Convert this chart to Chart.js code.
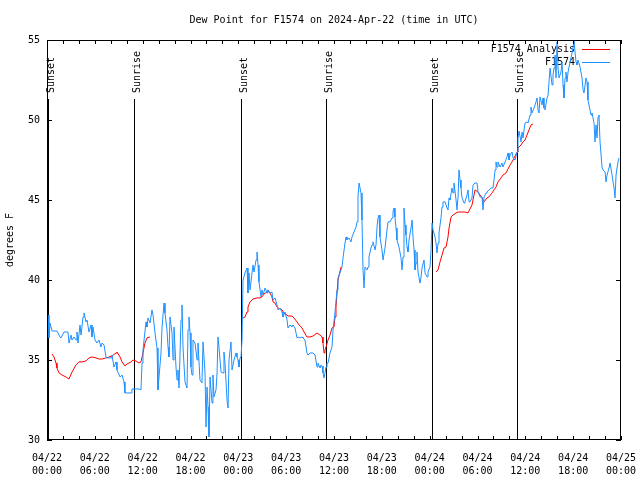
<!DOCTYPE html>
<html>
<head>
<meta charset="utf-8">
<script src="https://cdn.jsdelivr.net/npm/chart.js@4/dist/chart.umd.min.js"></script>
<style>
  body { margin: 0; background: #fff; }
</style>
</head>
<body>
<canvas id="chart" width="640" height="480"></canvas>
<script>
// hours after 04/22 00:00 UTC, dew point in degrees F
const obsHours = [
    0.13, 0.25, 0.38, 0.63, 1.25, 1.63, 1.76, 2.13, 2.63, 2.76,
    3.01, 3.14, 3.39, 3.64, 3.76, 3.89, 4.14, 4.27, 4.52, 4.64,
    4.89, 5.02, 5.27, 5.52, 5.64, 5.77, 6.02, 6.27, 6.52, 6.77,
    6.9, 7.15, 7.4, 7.53, 8.03, 8.15, 8.4, 8.66, 8.78, 9.16,
    9.41, 9.66, 9.78, 10.54, 10.66, 11.54, 11.79, 11.92, 12.04, 12.42,
    12.54, 12.67, 12.92, 13.17, 13.3, 13.55, 13.8, 13.92, 14.05, 14.3,
    14.43, 14.68, 14.8, 15.05, 15.18, 15.3, 15.43, 15.68, 15.81, 15.93,
    16.18, 16.31, 16.43, 16.56, 16.81, 16.93, 17.06, 17.31, 17.56, 17.69,
    17.81, 17.94, 18.06, 18.19, 18.31, 18.57, 18.82, 18.94, 19.19, 19.44,
    19.57, 19.82, 19.95, 20.07, 20.2, 20.32, 20.45, 20.7, 20.82, 20.95,
    21.2, 21.33, 21.45, 21.58, 21.83, 22.08, 22.2, 22.33, 22.58, 22.71,
    22.83, 23.08, 23.21, 23.46, 23.71, 23.83, 23.96, 24.08, 24.21, 24.34,
    24.46, 24.59, 24.84, 25.09, 25.21, 25.34, 25.47, 25.72, 25.84, 25.97,
    26.22, 26.34, 26.47, 26.59, 26.85, 26.97, 27.1, 27.35, 27.6, 27.72,
    27.97, 28.22, 28.35, 28.6, 28.85, 28.98, 29.23, 29.48, 29.6, 29.85,
    30.11, 30.23, 30.48, 30.73, 30.86, 31.11, 31.36, 31.49, 31.74, 31.99,
    32.11, 32.36, 32.61, 32.74, 32.99, 33.37, 33.62, 33.87, 33.99, 34.25,
    34.37, 34.5, 34.62, 34.75, 35.0, 35.12, 35.25, 35.5, 35.75, 35.88,
    36.13, 36.38, 36.5, 36.75, 37.0, 37.13, 37.38, 37.51, 37.63, 37.88,
    38.13, 38.26, 38.51, 38.76, 38.89, 39.01, 39.14, 39.39, 39.51, 39.64,
    39.77, 39.89, 40.14, 40.27, 40.39, 40.64, 40.77, 40.89, 41.15, 41.27,
    41.4, 41.52, 41.65, 41.77, 42.02, 42.15, 42.4, 42.65, 42.78, 43.03,
    43.28, 43.4, 43.53, 43.65, 43.78, 43.9, 44.15, 44.41, 44.53, 44.66,
    44.78, 44.91, 45.03, 45.16, 45.28, 45.41, 45.66, 45.79, 45.91, 46.04,
    46.16, 46.29, 46.41, 46.54, 46.79, 46.92, 47.04, 47.29, 47.42, 47.67,
    47.79, 48.04, 48.17, 48.3, 48.42, 48.67, 48.8, 48.92, 49.05, 49.17,
    49.42, 49.55, 49.67, 49.93, 50.18, 50.3, 50.43, 50.55, 50.8, 50.93,
    51.05, 51.31, 51.43, 51.56, 51.68, 51.81, 51.93, 52.06, 52.31, 52.43,
    52.68, 52.81, 52.94, 53.06, 53.31, 53.44, 53.69, 53.94, 54.07, 54.32,
    54.57, 54.69, 54.82, 55.07, 55.19, 55.44, 55.7, 55.95, 56.07, 56.2,
    56.32, 56.45, 56.57, 56.83, 57.08, 57.2, 57.45, 57.7, 57.83, 57.95,
    58.08, 58.33, 58.46, 58.71, 58.96, 59.08, 59.21, 59.46, 59.59, 59.71,
    59.96, 60.21, 60.34, 60.59, 60.71, 60.84, 61.09, 61.34, 61.47, 61.59,
    61.72, 61.84, 62.09, 62.22, 62.34, 62.47, 62.72, 62.85, 62.97, 63.1,
    63.35, 63.47, 63.6, 63.72, 63.85, 63.98, 64.1, 64.23, 64.48, 64.6,
    64.73, 64.85, 64.98, 65.1, 65.23, 65.36, 65.48, 65.73, 65.86, 65.98,
    66.11, 66.23, 66.36, 66.48, 66.61, 66.86, 67.11, 67.24, 67.36, 67.61,
    67.74, 67.86, 68.11, 68.24, 68.36, 68.49, 68.62, 68.74, 68.87, 68.99,
    69.12, 69.24, 69.37, 69.62, 69.75, 70.0, 70.12, 70.25, 70.5, 70.63,
    70.88, 71.0, 71.13, 71.25, 71.38, 71.5, 71.63, 71.76
];
const obsDew = [
    37.81, 36.38, 37.31, 36.81, 36.81, 36.44, 36.38, 36.75, 36.75, 36.06,
    36.56, 36.25, 36.44, 36.25, 36.75, 36.06, 37.19, 36.56, 37.69, 37.94,
    37.38, 37.5, 36.75, 37.19, 36.44, 37.06, 36.25, 36.06, 36.25, 35.81,
    36.06, 35.94, 35.19, 35.13, 35.13, 35.31, 34.56, 34.88, 34.38, 33.94,
    34.06, 33.63, 32.94, 32.94, 33.19, 33.19, 33.13, 34.81, 35.63, 37.38,
    37.06, 37.63, 37.31, 38.13, 37.81, 36.69, 35.75, 33.13, 33.94, 35.44,
    37.06, 38.56, 37.94, 36.88, 35.81, 35.19, 37.69, 36.69, 35.0, 37.06,
    34.56, 33.75, 34.38, 33.25, 37.5, 38.44, 35.81, 33.63, 33.25, 36.88,
    37.69, 36.69, 34.56, 34.06, 36.25, 36.06, 35.0, 36.06, 33.75, 33.56,
    36.13, 34.19, 30.81, 33.31, 32.06, 30.19, 33.94, 32.31, 34.06, 32.69,
    33.13, 34.19, 36.44, 35.75, 34.25, 34.19, 35.5, 34.81, 32.5, 32.0,
    35.0, 36.13, 34.38, 35.0, 35.44, 35.19, 35.0, 34.56, 35.13, 35.19,
    36.25, 40.0, 40.44, 40.75, 39.19, 40.44, 39.38, 40.44, 40.94, 40.5,
    41.25, 41.75, 40.94, 39.88, 38.94, 39.38, 39.06, 39.5, 39.19, 39.38,
    39.19, 39.25, 38.75, 38.88, 38.44, 38.13, 38.25, 38.0, 37.69, 38.0,
    37.5, 37.0, 37.19, 37.06, 37.19, 37.0, 36.38, 36.44, 36.38, 36.44,
    36.38, 36.25, 35.44, 35.31, 35.44, 35.44, 35.31, 34.56, 34.81, 34.5,
    34.69, 34.63, 34.19, 33.88, 34.56, 34.81, 34.81, 35.44, 35.81, 36.88,
    38.0, 39.38, 40.13, 40.44, 40.81, 41.38, 42.31, 42.69, 42.5, 42.63,
    42.38, 42.69, 43.0, 43.31, 43.63, 45.19, 46.06, 45.44, 43.75, 40.63,
    39.5, 40.81, 40.63, 40.81, 41.44, 42.0, 42.19, 42.38, 41.88, 42.19,
    43.31, 43.88, 44.06, 42.69, 41.88, 41.25, 42.0, 43.13, 43.63, 43.63,
    43.88, 44.25, 44.5, 43.94, 43.25, 42.5, 42.06, 41.38, 40.63, 41.44,
    44.5, 43.44, 42.81, 42.06, 41.75, 42.5, 43.25, 43.75, 42.69, 41.88,
    40.63, 41.06, 41.75, 40.5, 39.81, 40.19, 40.75, 41.25, 40.44, 40.19,
    40.5, 40.81, 41.88, 43.56, 43.13, 42.69, 42.31, 41.69, 42.31, 42.94,
    43.88, 44.56, 44.88, 44.88, 44.5, 44.38, 45.13, 45.0, 45.75, 45.44,
    46.06, 45.0, 44.38, 45.19, 46.88, 46.25, 45.75, 45.13, 44.81, 44.88,
    45.31, 45.63, 44.88, 44.88, 45.13, 45.94, 46.06, 46.06, 45.5, 45.19,
    45.19, 44.38, 45.19, 45.44, 45.5, 45.63, 45.75, 45.75, 46.25, 46.88,
    47.38, 47.06, 47.38, 47.06, 47.31, 47.06, 47.38, 47.69, 47.94, 47.5,
    47.81, 48.0, 47.63, 47.5, 48.0, 48.88, 49.31, 48.63, 49.25, 48.88,
    49.81, 49.88, 49.81, 50.31, 50.81, 50.44, 50.75, 51.13, 51.38, 50.63,
    50.44, 51.44, 50.94, 51.38, 50.75, 50.63, 51.38, 51.56, 52.38, 53.25,
    52.19, 52.81, 53.25, 54.06, 52.63, 54.88, 53.25, 52.63, 53.0, 53.63,
    52.19, 51.38, 52.63, 53.0, 52.38, 53.0, 53.31, 53.88, 54.19, 54.5,
    54.94, 54.25, 53.63, 53.44, 53.75, 53.31, 52.63, 51.88, 51.69, 52.63,
    52.38, 51.25, 50.63, 50.31, 50.44, 50.13, 49.81, 48.63, 49.69, 48.88,
    50.19, 50.31, 48.63, 47.06, 46.88, 46.75, 46.13, 46.56, 47.0, 47.31,
    46.56, 46.13, 45.75, 45.13, 46.56, 47.0, 47.38, 47.63
];

// analysis runs; null breaks the line between runs
const anaHours = [
    0.63, 0.88, 1.13, 1.25, 1.51, 1.88, 2.38, 2.76, 3.14, 3.64,
    4.01, 4.39, 4.89, 5.27, 5.64, 6.15, 6.52, 6.9, 7.4, 7.78,
    8.15, 8.66, 8.78, 9.16, 9.41, 9.78, 10.04, 10.54, 10.79, 11.16,
    11.54, 11.79, 12.04, 12.29, 12.54, 12.92, 13.0,
    24.59, 24.84, 25.09, 25.21, 25.47, 25.84, 26.34, 26.72, 26.97, 27.22,
    27.6, 27.72, 27.97, 28.22, 28.35, 28.6, 28.85, 28.98, 29.48, 29.73,
    30.11, 30.23, 30.73, 30.98, 31.36, 31.61, 31.99, 32.24, 32.61, 32.99,
    33.37, 33.87, 34.25, 34.5, 34.62, 34.75, 34.87, 35.0, 35.25, 35.5,
    35.75, 36.0, 36.13, 36.25, 36.5, 36.88, 37.0,
    48.8, 49.05, 49.3, 49.55, 49.8, 50.05, 50.3, 50.43, 50.68, 50.93,
    51.31, 51.56, 52.06, 52.43, 52.81, 53.31, 53.69, 54.07, 54.32, 54.57,
    54.82, 55.19, 55.44, 55.82, 56.07, 56.32, 56.57, 56.95, 57.2, 57.58,
    57.83, 58.08, 58.33, 58.46, 58.71, 58.96, 59.08, 59.46, 59.71, 59.96,
    60.21, 60.46, 60.71, 60.96
];
const anaDew = [
    35.38, 35.19, 34.81, 34.5, 34.19, 34.06, 33.94, 33.81, 34.25, 34.69,
    34.88, 34.88, 34.94, 35.13, 35.19, 35.13, 35.06, 35.06, 35.13, 35.19,
    35.25, 35.44, 35.5, 35.19, 34.88, 34.63, 34.75, 34.88, 35.0, 34.94,
    34.81, 34.88, 35.44, 36.06, 36.38, 36.44, null,
    37.63, 37.69, 38.0, 38.31, 38.63, 38.81, 38.88, 38.88, 38.94, 39.13,
    39.25, 39.38, 39.19, 38.94, 38.63, 38.56, 38.31, 38.25, 38.13, 37.94,
    37.81, 37.75, 37.75, 37.63, 37.38, 37.19, 37.0, 36.75, 36.44, 36.44,
    36.5, 36.69, 36.56, 36.44, 36.06, 35.44, 35.63, 35.81, 36.25, 36.56,
    37.0, 37.06, 37.69, 38.31, 40.0, 40.81, null,
    40.5, 40.63, 41.13, 41.56, 42.0, 42.06, 42.69, 43.25, 43.94, 44.06,
    44.19, 44.25, 44.25, 44.25, 44.19, 44.69, 45.63, 45.5, 45.31, 45.13,
    44.88, 45.13, 45.19, 45.44, 45.63, 45.81, 46.13, 46.38, 46.56, 46.69,
    46.94, 47.19, 47.38, 47.5, 47.75, 48.0, 48.25, 48.44, 48.63, 48.75,
    49.06, 49.38, 49.69, 49.75
];

const sunLabels = ['Sunset', 'Sunrise', 'Sunset', 'Sunrise', 'Sunset', 'Sunrise'];
const sunHours = [0.13, 10.91, 24.3, 35.0, 48.26, 58.96];

const xTickHours = [0, 6, 12, 18, 24, 30, 36, 42, 48, 54, 60, 66, 72];
const xTickDates = ['04/22', '04/22', '04/22', '04/22', '04/23', '04/23', '04/23',
                    '04/23', '04/24', '04/24', '04/24', '04/24', '04/25'];
const xTickTimes = ['00:00', '06:00', '12:00', '18:00', '00:00', '06:00', '12:00',
                    '18:00', '00:00', '06:00', '12:00', '18:00', '00:00'];
const yTicks = [30, 35, 40, 45, 50, 55];

const FONT = '10px "DejaVu Sans Mono", monospace';
const BLUE = '#1e90ff';
const RED = '#ff0000';

// gnuplot look: inward tics, boxed frame, sun markers, legend top right
const gnuplotFrame = {
    id: 'gnuplotFrame',
    beforeDatasetsDraw(chart) {
        const { ctx, chartArea: a, scales: { x } } = chart;
        ctx.save();
        ctx.strokeStyle = '#000';
        ctx.fillStyle = '#000';
        ctx.lineWidth = 1;
        ctx.font = FONT;
        sunHours.forEach((h, i) => {
            const px = Math.round(x.getPixelForValue(h)) + 0.5;
            ctx.beginPath();
            ctx.moveTo(px, a.top + 59);
            ctx.lineTo(px, a.bottom);
            ctx.stroke();
            ctx.save();
            ctx.translate(px + 5, a.top + 53);
            ctx.rotate(-Math.PI / 2);
            ctx.textAlign = 'left';
            ctx.textBaseline = 'alphabetic';
            ctx.fillText(sunLabels[i], 0, 0);
            ctx.restore();
        });

        // legend
        const entries = [['F1574 Analysis', RED], ['F1574', BLUE]];
        ctx.textAlign = 'right';
        ctx.textBaseline = 'middle';
        entries.forEach(([label, color], i) => {
            const ly = a.top + 9.5 + i * 13;
            ctx.fillStyle = '#000';
            ctx.fillText(label, a.right - 46, ly);
            ctx.strokeStyle = color;
            ctx.beginPath();
            ctx.moveTo(a.right - 39, ly);
            ctx.lineTo(a.right - 11, ly);
            ctx.stroke();
        });
        ctx.restore();
    },
    afterDraw(chart) {
        const { ctx, chartArea: a, scales: { x, y } } = chart;
        ctx.save();
        ctx.strokeStyle = '#000';
        ctx.fillStyle = '#000';
        ctx.lineWidth = 1;
        ctx.font = FONT;

        ctx.strokeRect(a.left + 0.5, a.top + 0.5, a.right - a.left - 1, a.bottom - a.top - 1);

        // x tics every 2 hours, labels every 6
        ctx.beginPath();
        for (let h = 0; h <= 72; h += 2) {
            const px = Math.round(x.getPixelForValue(h)) + 0.5;
            ctx.moveTo(px, a.bottom);
            ctx.lineTo(px, a.bottom - 4);
            ctx.moveTo(px, a.top);
            ctx.lineTo(px, a.top + 4);
        }
        yTicks.forEach(v => {
            const py = Math.round(y.getPixelForValue(v)) + 0.5;
            ctx.moveTo(a.left, py);
            ctx.lineTo(a.left + 5, py);
            ctx.moveTo(a.right, py);
            ctx.lineTo(a.right - 5, py);
        });
        ctx.stroke();

        ctx.textAlign = 'center';
        ctx.textBaseline = 'middle';
        xTickHours.forEach((h, i) => {
            const px = x.getPixelForValue(h);
            ctx.fillText(xTickDates[i], px, a.bottom + 18);
            ctx.fillText(xTickTimes[i], px, a.bottom + 31);
        });

        ctx.textAlign = 'right';
        yTicks.forEach(v => {
            ctx.fillText(String(v), a.left - 7, y.getPixelForValue(v));
        });

        ctx.textAlign = 'center';
        ctx.fillText('Dew Point for F1574 on 2024-Apr-22 (time in UTC)', (a.left + a.right) / 2, 20);

        ctx.save();
        ctx.translate(10, (a.top + a.bottom) / 2);
        ctx.rotate(-Math.PI / 2);
        ctx.fillText('degrees F', 0, 0);
        ctx.restore();
        ctx.restore();
    }
};

new Chart(document.getElementById('chart'), {
    type: 'line',
    data: {
        datasets: [
            {
                label: 'F1574 Analysis',
                data: anaHours.map((h, i) => ({ x: h, y: anaDew[i] })),
                borderColor: RED,
                borderWidth: 1,
                pointRadius: 0,
                tension: 0,
                spanGaps: false,
                order: 1
            },
            {
                label: 'F1574',
                data: obsHours.map((h, i) => ({ x: h, y: obsDew[i] })),
                borderColor: BLUE,
                borderWidth: 1,
                pointRadius: 0,
                tension: 0,
                order: 0
            }
        ]
    },
    options: {
        responsive: false,
        animation: false,
        devicePixelRatio: 1,
        layout: { padding: { left: 47, top: 40, right: 19, bottom: 40 } },
        plugins: {
            legend: { display: false },
            tooltip: { enabled: false }
        },
        scales: {
            x: { type: 'linear', min: 0, max: 72, display: false },
            y: { min: 30, max: 55, display: false }
        }
    },
    plugins: [gnuplotFrame]
});
</script>
</body>
</html>
